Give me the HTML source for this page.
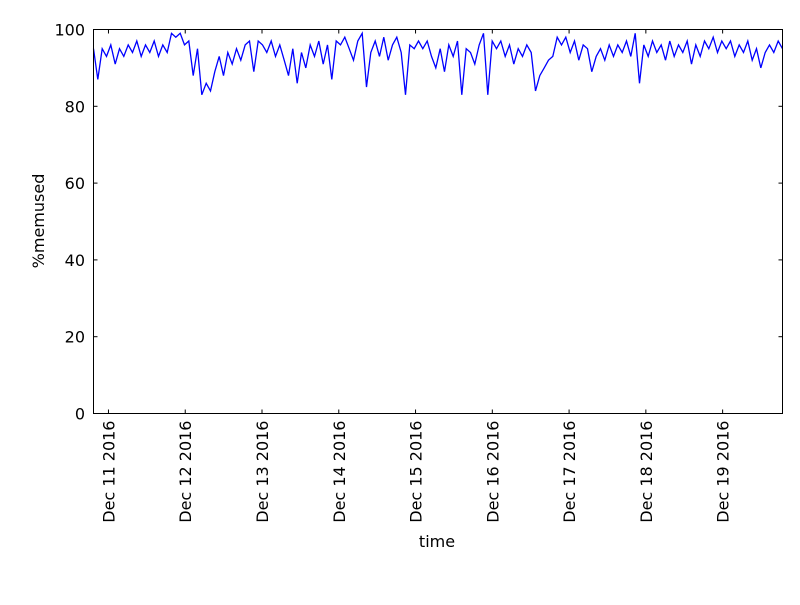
<!DOCTYPE html>
<html><head><meta charset="utf-8"><style>
body{margin:0;background:#fff;}
svg text{font-family:"DejaVu Sans","Liberation Sans",sans-serif;font-size:16px;fill:#000;}
</style></head><body>
<svg id="chart" width="800" height="600" xmlns="http://www.w3.org/2000/svg">
<rect width="800" height="600" fill="#fff"/>
<g id="ticks"></g>
<path id="line" fill="none" stroke="#0000ff" stroke-width="1.3"/>
<rect x="93.5" y="29.5" width="689" height="384" fill="none" stroke="#000" stroke-width="1"/>
<text x="437" y="547" text-anchor="middle">time</text>
<text transform="translate(44,221) rotate(-90)" text-anchor="middle">%memused</text>
</svg>
<script>
const yTicks=[0,20,40,60,80,100];
const xTickLabels=["Dec 11 2016","Dec 12 2016","Dec 13 2016","Dec 14 2016","Dec 15 2016","Dec 16 2016","Dec 17 2016","Dec 18 2016","Dec 19 2016"];
const xTickDays=[0,1,2,3,4,5,6,7,8];
const startDay=-0.195, endDay=8.78;
const values=[95,87,95,93,96,91,95,93,96,94,97,93,96,94,97,93,96,94,99,98,99,96,97,88,95,83,86,84,89,93,88,94,91,95,92,96,97,89,97,96,94,97,93,96,92,88,95,86,94,90,96,93,97,91,96,87,97,96,98,95,92,97,99,85,94,97,93,98,92,96,98,94,83,96,95,97,95,97,93,90,
95,89,96,93,97,83,95,94,91,96,99,83,97,95,97,93,96,91,95,93,96,94,84,88,90,92,93,98,96,98,94,97,92,96,95,89,93,95,92,96,93,96,94,97,93,99,86,96,93,97,94,96,92,97,93,96,94,97,91,96,93,97,95,98,94,97,95,97,93,96,94,97,92,95,90,94,96,94,97,95];
const X0=93.5,X1=782.5,Y0=413.5,Y1=29.5;
const xs=d=>X0+(d-startDay)/(endDay-startDay)*(X1-X0);
const ys=v=>Y0-(v/100)*(Y0-Y1);
const NS="http://www.w3.org/2000/svg";
const g=document.getElementById('ticks');
function mk(t,a){const e=document.createElementNS(NS,t);for(const k in a)e.setAttribute(k,a[k]);g.appendChild(e);return e;}
yTicks.forEach(v=>{const y=ys(v);
mk('line',{x1:X0,x2:X0+4,y1:y,y2:y,stroke:'#000'});
mk('line',{x1:X1,x2:X1-4,y1:y,y2:y,stroke:'#000'});
const t=mk('text',{x:85,y:y+6,'text-anchor':'end'});t.textContent=v;

});
xTickDays.forEach((d,i)=>{const x=xs(d);
mk('line',{x1:x,x2:x,y1:Y0,y2:Y0-4,stroke:'#000'});
mk('line',{x1:x,x2:x,y1:Y1,y2:Y1+4,stroke:'#000'});
const t=mk('text',{transform:`translate(${x+6},${Y0+7}) rotate(-90)`,'text-anchor':'end'});t.textContent=xTickLabels[i];

});
const n=values.length;let p='';
values.forEach((v,i)=>{const d=startDay+i*(endDay-startDay)/(n-1);p+=(i?'L':'M')+xs(d).toFixed(1)+','+ys(v).toFixed(1);});
document.getElementById('line').setAttribute('d',p);
</script>
</body></html>
